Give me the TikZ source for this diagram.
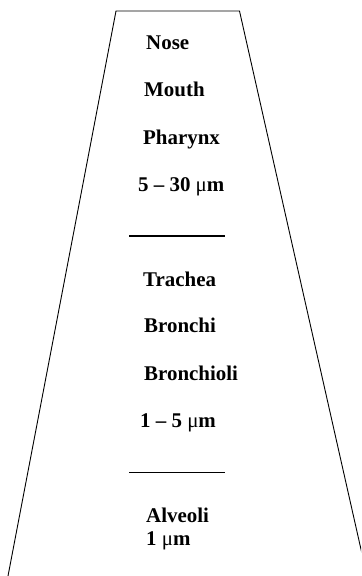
\documentclass[tikz,border=0pt]{standalone}
\usepackage{fontspec}
\setmainfont{Liberation Serif}
\begin{document}
\begin{tikzpicture}[x=1bp,y=-1bp,
  lbl/.style={anchor=base west,inner sep=0pt,font=\fontsize{21}{24}\selectfont\bfseries},
  edge/.style={line width=0.9bp,black},
  divider/.style={line width=1.1bp,black}]
\useasboundingbox (0,0) rectangle (361,576);
\clip (0,0) rectangle (361,576);
\coordinate (tl) at (116,11);
\coordinate (tr) at (239.5,11);
\coordinate (bl) at (8,576);
\coordinate (br) at (367,576);
\draw[edge] (bl) -- (tl) -- (tr) -- (br);
\coordinate (d1a) at (129,236);
\coordinate (d1b) at (225,236);
\coordinate (d2a) at (129,472.5);
\coordinate (d2b) at (225,472.5);
\draw[divider] (d1a) -- (d1b);
\draw[divider] (d2a) -- (d2b);
\node[lbl] (nose) at (146,50) {Nose};
\node[lbl] (mouth) at (144,96.7) {Mouth};
\node[lbl] (pharynx) at (143,145) {Pharynx};
\node[lbl] (s1) at (138,191.7) {5 – 30 {\mdseries μ}m};
\node[lbl] (trachea) at (143,286) {Trachea};
\node[lbl] (bronchi) at (144,332.7) {Bronchi};
\node[lbl] (bronchioli) at (144,380.7) {Bronchioli};
\node[lbl] (s2) at (140,427.3) {1 – 5 {\mdseries μ}m};
\node[lbl] (alveoli) at (146,522.3) {Alveoli};
\node[lbl] (s3) at (146,545) {1 {\mdseries μ}m};
\end{tikzpicture}
\end{document}
